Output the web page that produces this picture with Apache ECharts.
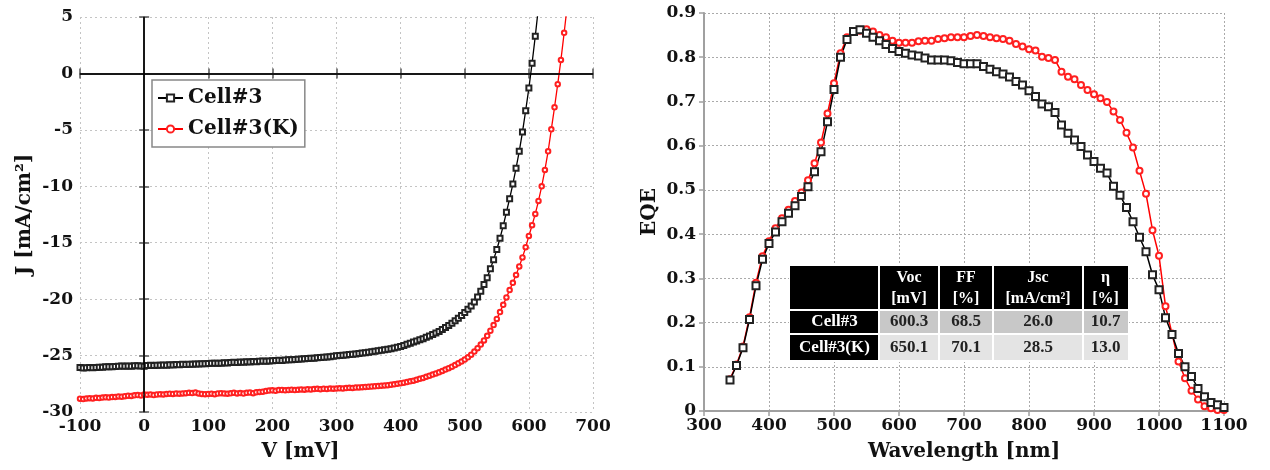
<!DOCTYPE html>
<html><head><meta charset="utf-8">
<script src="https://cdn.jsdelivr.net/npm/echarts@6/dist/echarts.min.js"></script>
<style>html,body{margin:0;padding:0;background:#fff}#c{width:1270px;height:470px}</style>
</head><body><div id="c"></div>
<script>
// ---------- data ----------
const seriesNames = ['Cell#3', 'Cell#3(K)'];

const voltage = [-100,-95,-90,-85,-80,-75,-70,-65,-60,-55,-50,-45,-40,-35,-30,-25,-20,-15,-10,-5,
0,5,10,15,20,25,30,35,40,45,50,55,60,65,70,75,80,85,90,95,
100,105,110,115,120,125,130,135,140,145,150,155,160,165,170,175,180,185,190,195,
200,205,210,215,220,225,230,235,240,245,250,255,260,265,270,275,280,285,290,295,
300,305,310,315,320,325,330,335,340,345,350,355,360,365,370,375,380,385,390,395,
400,405,410,415,420,425,430,435,440,445,450,455,460,465,470,475,480,485,490,495,
500,505,510,515,520,525,530,535,540,545,550,555,560,565,570,575,580,585,590,595,
600,605,610,615,620,625,630,635,640,645,650,655,660];

const jCell3 = [
-26.05,-26.10,-26.08,-26.06,-26.07,-26.05,-26.03,-26.04,-25.99,-25.98,
-26.00,-25.97,-25.95,-25.93,-25.95,-25.92,-25.94,-25.91,-25.90,-25.92,
-25.94,-25.88,-25.86,-25.87,-25.85,-25.86,-25.84,-25.85,-25.82,-25.83,
-25.80,-25.81,-25.78,-25.80,-25.76,-25.77,-25.74,-25.75,-25.72,-25.73,
-25.70,-25.69,-25.68,-25.67,-25.68,-25.64,-25.65,-25.62,-25.60,-25.61,
-25.58,-25.60,-25.55,-25.56,-25.53,-25.54,-25.50,-25.49,-25.50,-25.47,
-25.45,-25.44,-25.42,-25.43,-25.40,-25.38,-25.36,-25.35,-25.33,-25.30,
-25.28,-25.27,-25.24,-25.23,-25.20,-25.18,-25.15,-25.12,-25.10,-25.06,
-25.02,-25.00,-24.97,-24.94,-24.90,-24.88,-24.85,-24.82,-24.78,-24.74,
-24.70,-24.66,-24.62,-24.58,-24.53,-24.49,-24.44,-24.39,-24.33,-24.27,
-24.20,-24.10,-24.00,-23.90,-23.80,-23.70,-23.60,-23.50,-23.38,-23.26,
-23.14,-23.00,-22.86,-22.70,-22.52,-22.34,-22.14,-21.92,-21.70,-21.45,
-21.18,-20.90,-20.60,-20.25,-19.80,-19.30,-18.70,-18.10,-17.30,-16.50,
-15.60,-14.60,-13.50,-12.30,-11.10,-9.80,-8.40,-6.90,-5.20,-3.30,
-1.30,0.90,3.30,5.90];

const jCell3K = [
-28.82,-28.85,-28.80,-28.78,-28.80,-28.74,-28.76,-28.72,-28.70,-28.72,
-28.68,-28.66,-28.62,-28.64,-28.60,-28.55,-28.58,-28.52,-28.50,-28.53,
-28.46,-28.48,-28.44,-28.50,-28.45,-28.42,-28.44,-28.40,-28.38,-28.40,
-28.36,-28.38,-28.35,-28.33,-28.30,-28.32,-28.28,-28.35,-28.40,-28.42,
-28.40,-28.38,-28.42,-28.36,-28.33,-28.36,-28.38,-28.34,-28.30,-28.35,
-28.32,-28.36,-28.30,-28.28,-28.33,-28.25,-28.22,-28.20,-28.15,-28.10,
-28.08,-28.12,-28.06,-28.04,-28.08,-28.05,-28.02,-28.06,-28.03,-28.00,
-28.02,-27.98,-28.00,-27.97,-27.95,-27.98,-27.94,-27.96,-27.92,-27.93,
-27.92,-27.90,-27.91,-27.88,-27.86,-27.87,-27.84,-27.82,-27.80,-27.78,
-27.76,-27.74,-27.72,-27.70,-27.67,-27.65,-27.62,-27.58,-27.55,-27.50,
-27.45,-27.40,-27.35,-27.28,-27.22,-27.14,-27.06,-26.98,-26.88,-26.78,
-26.68,-26.58,-26.48,-26.36,-26.24,-26.12,-25.98,-25.84,-25.68,-25.52,
-25.35,-25.15,-24.92,-24.65,-24.35,-24.02,-23.66,-23.25,-22.80,-22.30,
-21.75,-21.15,-20.50,-19.85,-19.20,-18.55,-17.85,-17.10,-16.30,-15.40,
-14.40,-13.45,-12.45,-11.30,-10.00,-8.55,-6.90,-4.95,-3.00,-0.95,
1.20,3.60,6.10];

const wavelength = [340,350,360,370,380,390,400,410,420,430,440,450,460,470,480,490,500,510,520,530,
540,550,560,570,580,590,600,610,620,630,640,650,660,670,680,690,700,710,720,730,
740,750,760,770,780,790,800,810,820,830,840,850,860,870,880,890,900,910,920,930,
940,950,960,970,980,990,1000,1010,1020,1030,1040,1050,1060,1070,1080,1090,1100];

const eqeCell3 = [0.070,0.103,0.143,0.207,0.283,0.343,0.379,0.405,0.428,0.447,
0.464,0.485,0.507,0.541,0.586,0.654,0.727,0.800,0.840,0.858,
0.862,0.854,0.845,0.837,0.829,0.820,0.813,0.809,0.805,0.803,
0.798,0.794,0.794,0.794,0.792,0.788,0.785,0.785,0.785,0.779,
0.773,0.767,0.762,0.755,0.745,0.737,0.724,0.711,0.694,0.688,
0.675,0.647,0.628,0.613,0.598,0.579,0.564,0.549,0.538,0.508,
0.488,0.460,0.428,0.393,0.360,0.308,0.274,0.211,0.173,0.130,
0.100,0.078,0.051,0.032,0.019,0.014,0.008];

const eqeCell3K = [0.072,0.105,0.146,0.212,0.290,0.350,0.384,0.413,0.436,0.455,
0.475,0.494,0.522,0.560,0.607,0.673,0.741,0.809,0.845,0.858,
0.860,0.863,0.858,0.850,0.845,0.837,0.833,0.833,0.833,0.836,
0.837,0.837,0.841,0.843,0.845,0.845,0.845,0.848,0.850,0.848,
0.845,0.843,0.841,0.837,0.830,0.824,0.818,0.815,0.801,0.798,
0.794,0.767,0.756,0.750,0.737,0.726,0.716,0.707,0.699,0.677,
0.658,0.629,0.596,0.543,0.491,0.409,0.351,0.237,0.175,0.112,
0.074,0.046,0.026,0.011,0.006,0.002,0.002];

const tableHeader = [['Voc', '[mV]'], ['FF', '[%]'], ['Jsc', '[mA/cm²]'], ['η', '[%]']];
const tableRowLabels = ['Cell#3', 'Cell#3(K)'];
const tableValues = [['600.3', '68.5', '26.0', '10.7'], ['650.1', '70.1', '28.5', '13.0']];

// ---------- layout ----------
const FONT = 'DejaVu Serif';
const TFONT = 'Liberation Serif';
const colEdges = [790, 879, 939, 993, 1083, 1128];
const rowEdges = [266, 310, 334, 361];
const rowFills = ['#c8c8c8', '#e4e4e4'];

const pairs = (xs, ys) => ys.map((y, i) => [xs[i], y]);
const plain = v => String(v);

const graphics = [];
graphics.push({ type: 'rect', z: 9, shape: { x: colEdges[0] - 1, y: rowEdges[0] - 1, width: colEdges[5] - colEdges[0] + 2, height: rowEdges[3] - rowEdges[0] + 2 }, style: { fill: '#fff' } });
for (let r = 0; r < 3; r++) {
  for (let c = 0; c < 5; c++) {
    let fill = '#000';
    if (r > 0 && c > 0) fill = rowFills[r - 1];
    graphics.push({ type: 'rect', z: 10,
      shape: { x: colEdges[c] + (c ? 1 : 0), y: rowEdges[r] + (r ? 1 : 0), width: colEdges[c + 1] - colEdges[c] - (c ? 1 : 0) - (c < 4 ? 1 : 0), height: rowEdges[r + 1] - rowEdges[r] - (r ? 1 : 0) - 1 },
      style: { fill } });
  }
}
tableHeader.forEach((h, i) => {
  const cx = (colEdges[i + 1] + colEdges[i + 2]) / 2;
  graphics.push({ type: 'text', z: 11, style: { text: h[0], x: cx, y: 278, textAlign: 'center', textVerticalAlign: 'middle', fill: '#fff', font: 'bold 16px "' + TFONT + '"' } });
  graphics.push({ type: 'text', z: 11, style: { text: h[1], x: cx, y: 299, textAlign: 'center', textVerticalAlign: 'middle', fill: '#fff', font: 'bold 16px "' + TFONT + '"' } });
});
tableRowLabels.forEach((lab, r) => {
  const cy = (rowEdges[r + 1] + rowEdges[r + 2]) / 2;
  graphics.push({ type: 'text', z: 11, style: { text: lab, x: (colEdges[0] + colEdges[1]) / 2, y: cy, textAlign: 'center', textVerticalAlign: 'middle', fill: '#fff', font: 'bold 17px "' + TFONT + '"' } });
  tableValues[r].forEach((v, c) => {
    graphics.push({ type: 'text', z: 11, style: { text: v, x: (colEdges[c + 1] + colEdges[c + 2]) / 2, y: cy, textAlign: 'center', textVerticalAlign: 'middle', fill: '#222', font: 'bold 17px "' + TFONT + '"' } });
  });
});

const labelStyle = { fontFamily: FONT, fontWeight: 'bold', fontSize: 17, color: '#111', formatter: plain };
const nameStyle = { fontFamily: FONT, fontWeight: 'bold', fontSize: 20, color: '#111' };
const leftLine = { show: true, lineStyle: { color: '#555', width: 1.5 } };
const leftTick = { show: true, inside: false, length: 5, lineStyle: { color: '#555', width: 1.5 } };
const leftSplit = { show: true, lineStyle: { color: '#c4c4c4', type: [2, 3], width: 1 } };
const rightLine = { show: true, lineStyle: { color: '#a0a0a0', width: 2 } };
const rightTick = { show: true, inside: false, length: 5, lineStyle: { color: '#a0a0a0', width: 1.5 } };
const rightSplit = { show: true, lineStyle: { color: '#aaa', type: [2, 2], width: 1 } };

const option = {
  animation: false,
  backgroundColor: '#fff',
  grid: [
    { left: 80, top: 17, width: 513, height: 395 },
    { left: 704, top: 13, width: 520, height: 398 }
  ],
  legend: {
    data: seriesNames,
    left: 152, top: 80, orient: 'vertical',
    backgroundColor: '#fff', borderColor: '#888', borderWidth: 1.5, borderRadius: 0,
    padding: [8, 6, 8, 5], itemGap: 11, itemWidth: 25, itemHeight: 9,
    textStyle: { fontFamily: FONT, fontWeight: 'bold', fontSize: 20, color: '#111' },
    selectedMode: false
  },
  xAxis: [
    { type: 'value', gridIndex: 0, min: -100, max: 700, interval: 100, position: 'bottom',
      name: 'V [mV]', nameLocation: 'middle', nameGap: 30,
      nameTextStyle: Object.assign({ padding: [0, 72, 0, 0] }, nameStyle),
      axisLabel: Object.assign({ margin: 6 }, labelStyle), axisLine: leftLine, axisTick: leftTick, splitLine: leftSplit },
    { type: 'value', gridIndex: 0, min: -100, max: 700, interval: 100, position: 'top',
      axisLabel: { show: false }, axisLine: leftLine, axisTick: leftTick, splitLine: { show: false } },
    { type: 'value', gridIndex: 1, min: 300, max: 1100, interval: 100, position: 'bottom',
      name: 'Wavelength [nm]', nameLocation: 'middle', nameGap: 31, nameTextStyle: nameStyle,
      axisLabel: Object.assign({ margin: 6 }, labelStyle), axisLine: rightLine, axisTick: rightTick, splitLine: rightSplit }
  ],
  yAxis: [
    { type: 'value', gridIndex: 0, min: -30, max: 5, interval: 5, position: 'left',
      name: 'J [mA/cm²]', nameLocation: 'middle', nameGap: 45, nameTextStyle: nameStyle,
      axisLabel: Object.assign({ margin: 7 }, labelStyle), axisLine: leftLine, axisTick: leftTick, splitLine: leftSplit },
    { type: 'value', gridIndex: 0, min: -30, max: 5, interval: 5, position: 'right',
      axisLabel: { show: false }, axisLine: leftLine, axisTick: leftTick, splitLine: { show: false } },
    { type: 'value', gridIndex: 1, min: 0, max: 0.9, interval: 0.1, position: 'left',
      name: 'EQE', nameLocation: 'middle', nameGap: 44, nameTextStyle: nameStyle,
      axisLabel: Object.assign({ margin: 8 }, labelStyle), axisLine: rightLine, axisTick: rightTick, splitLine: rightSplit }
  ],
  graphic: graphics,
  series: [
    { name: seriesNames[1], type: 'line', xAxisIndex: 0, yAxisIndex: 0,
      data: pairs(voltage, jCell3K), symbol: 'emptyCircle', symbolSize: 4.5,
      lineStyle: { color: '#ff0000', width: 1.3 }, itemStyle: { color: '#ff2020', borderWidth: 1 } },
    { name: seriesNames[0], type: 'line', xAxisIndex: 0, yAxisIndex: 0,
      data: pairs(voltage, jCell3), symbol: 'emptyRect', symbolSize: 5,
      lineStyle: { color: '#000', width: 1.3 }, itemStyle: { color: '#222', borderWidth: 1.1 },
      markLine: { silent: true, symbol: ['none', 'none'], label: { show: false },
        lineStyle: { color: '#000', width: 1.5, type: 'solid' },
        data: [{ xAxis: 0 }, { yAxis: 0 }] } },
    { name: seriesNames[1], type: 'line', xAxisIndex: 2, yAxisIndex: 2,
      data: pairs(wavelength, eqeCell3K), symbol: 'emptyCircle', symbolSize: 6,
      lineStyle: { color: '#ff0000', width: 1.5 }, itemStyle: { color: '#ff2020', borderWidth: 1 } },
    { name: seriesNames[0], type: 'line', xAxisIndex: 2, yAxisIndex: 2,
      data: pairs(wavelength, eqeCell3), symbol: 'emptyRect', symbolSize: 7,
      lineStyle: { color: '#000', width: 1.5 }, itemStyle: { color: '#222', borderWidth: 1.2 } }
  ]
};

const chart = echarts.init(document.getElementById('c'), null, { renderer: 'canvas' });
chart.setOption(option);
</script>
</body></html>
